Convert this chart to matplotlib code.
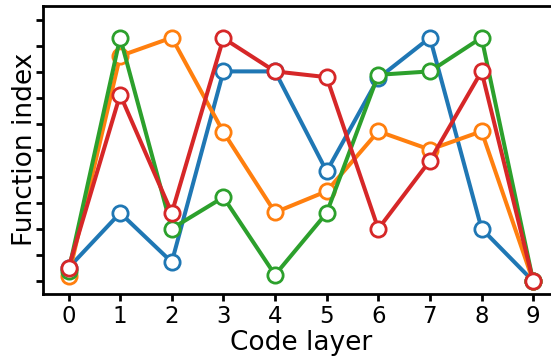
import matplotlib
matplotlib.use("Agg")
import matplotlib.pyplot as plt
import numpy as np

layers = list(range(10))
blue = [0.51, 2.61, 0.73, 8.02, 8.02, 4.20, 7.76, 9.31, 2.01, 0.0]
orange = [0.19, 8.61, 9.31, 5.70, 2.63, 3.44, 5.73, 5.03, 5.73, 0.0]
green = [0.38, 9.31, 2.01, 3.21, 0.24, 2.61, 7.89, 8.02, 9.31, 0.0]
red = [0.51, 7.13, 2.61, 9.29, 8.02, 7.80, 2.00, 4.61, 8.02, 0.0]
series = [(blue, "#1f77b4"), (orange, "#ff7f0e"), (green, "#2ca02c"), (red, "#d62728")]
yticks = list(range(11))

fig = plt.figure(figsize=(5.51, 3.64), dpi=100)
# axes runs a little past the right edge of the canvas
ax_w = 559 - 42.7
ax = fig.add_axes([42.7 / 551, 1 - 293.5 / 364, ax_w / 551, (293.5 - 6) / 364])

for vals, col in series:
    ax.plot(layers, vals, color=col, lw=2.9, marker="o", ms=11,
            mfc="white", mec=col, mew=2.0)

ax.set_xlim(-0.5, 9.5)
ax.set_ylim(-0.47, 10.52)
ax.set_xticks(layers)
ax.set_yticks(yticks)
ax.set_yticklabels([])
ax.tick_params(axis="both", length=5, width=2, labelsize=16.5, pad=3.5)
for s in ax.spines.values():
    s.set_linewidth(2)
ax.spines["right"].set_visible(False)
ax.set_xlabel("Code layer", fontsize=19, labelpad=1)
ax.set_ylabel("Function index", fontsize=19)
ax.yaxis.set_label_coords(-4.5 / ax_w, 0.5)

fig.savefig("out.png", dpi=100)
